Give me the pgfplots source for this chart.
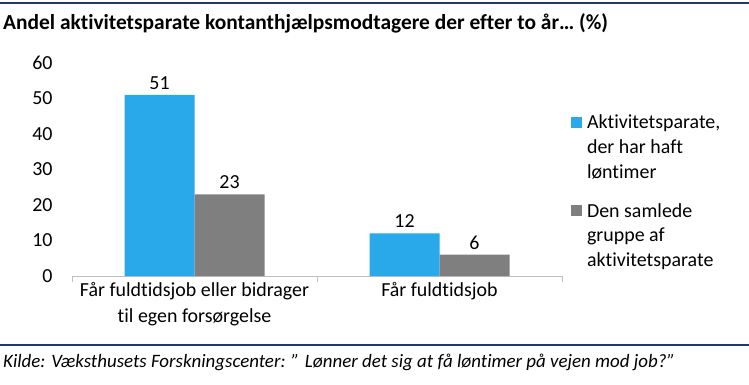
\documentclass[border=0pt]{standalone}
\usepackage{pgfplots}
\pgfplotsset{compat=1.18}
\usepackage{fontspec}
\setmainfont{Carlito}[Ligatures={NoCommon}]
\definecolor{cblue}{RGB}{41,168,234}
\definecolor{cgrey}{RGB}{127,127,127}
\definecolor{navy}{RGB}{31,56,100}
\definecolor{axgrey}{RGB}{191,191,191}
\begin{document}
\begin{tikzpicture}
\useasboundingbox (0bp,0bp) rectangle (749bp,-385bp);
\draw[navy, line width=2bp] (0bp,-3bp) -- (749bp,-3bp);
\node[anchor=base west, inner sep=0pt, font=\fontsize{21.5}{24}\selectfont\bfseries] at (3bp,-29bp) {Andel aktivitetsparate kontanthjælpsmodtagere der efter to år\ldots{} (\%)};
\draw[navy, line width=2bp] (0bp,-345bp) -- (749bp,-345bp);
\node[anchor=base west, inner sep=0pt, font=\fontsize{19}{22}\selectfont\itshape] at (3bp,-367bp) {Kilde: Væksthusets Forskningscenter: ” Lønner det sig at få løntimer på vejen mod job?”};
\begin{axis}[
  at={(72bp,-276bp)}, anchor=south west,
  scale only axis, width=490bp, height=213bp,
  ybar=0pt, bar width=70bp,
  xmin=-0.5, xmax=1.5, ymin=0, ymax=60,
  ytick={0,10,...,60},
  xtick={-0.5,0.5,1.5}, xticklabels={},
  extra x ticks={0,1},
  extra x tick labels={Får fuldtidsjob eller bidrager\\til egen forsørgelse, Får fuldtidsjob},
  extra x tick style={major tick length=0pt, tick label style={align=center, font=\fontsize{20}{26}\selectfont, yshift=-3bp}},
  axis x line*=bottom, axis y line*=left,
  x axis line style={draw=axgrey, -},
  y axis line style={draw=none},
  xtick style={draw=axgrey},
  ytick style={draw=none},
  tick align=outside, major tick length=6bp,
  tick label style={font=\fontsize{20}{24}\selectfont},
  yticklabel style={xshift=-10bp},
  /pgf/number format/assume math mode=true,
  nodes near coords,
  every node near coord/.append style={font=\fontsize{20}{24}\selectfont, black, yshift=2bp},
  legend style={at={(1.012,0.775)}, anchor=north west, draw=none, fill=none,
    font=\fontsize{20}{25}\selectfont, cells={align=left, anchor=west}, row sep=19bp,
    /tikz/every odd column/.append style={column sep=3bp}},
  legend image code/.code={\fill[#1] (0bp,20bp) rectangle (11bp,31bp);},
]
\addplot[fill=cblue, draw=none] coordinates {(0,51) (1,12)};
\addplot[fill=cgrey, draw=none] coordinates {(0,23) (1,6)};
\addlegendentry{Aktivitetsparate,\\der har haft\\løntimer}
\addlegendentry{Den samlede\\gruppe af\\aktivitetsparate}
\end{axis}
\end{tikzpicture}
\end{document}
